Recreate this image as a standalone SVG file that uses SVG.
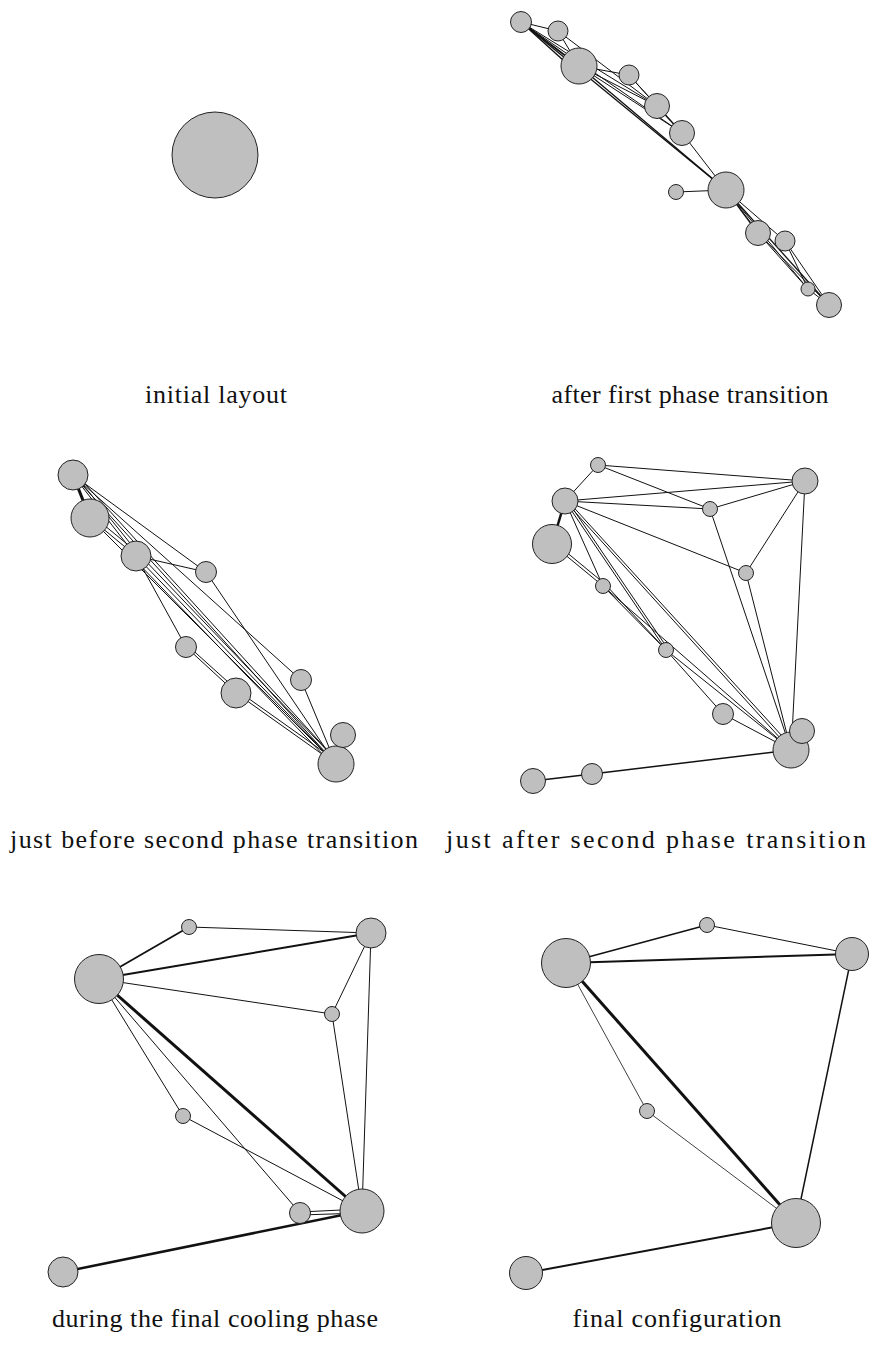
<svg xmlns="http://www.w3.org/2000/svg" width="875" height="1355" viewBox="0 0 875 1355">
<style>
.n{fill:#bfbfbf;stroke:#222;stroke-width:1}
.e{stroke:#111;stroke-width:1;fill:none}
.t{font-family:"Liberation Serif","DejaVu Serif",serif;font-size:26px;fill:#111;text-anchor:middle}
</style>
<rect width="875" height="1355" fill="#fff"/>
<!-- Panel 1 -->
<g id="p1-nodes"><g id="p1n1"><circle class="n" cx="215" cy="155" r="43"/></g></g>
<!-- Panel 2 -->
<g id="p2-edges" class="e">
<line x1="521" y1="22" x2="558" y2="31"/>
<line x1="521" y1="22" x2="579" y2="66" stroke-width="1.6"/>
<line x1="521" y1="22" x2="574" y2="70" stroke-width="1.4"/>
<line x1="521" y1="22" x2="657" y2="106"/>
<line x1="521" y1="22" x2="682" y2="133"/>
<line x1="521" y1="22" x2="726" y2="190" stroke-width="1.3"/>
<line x1="558" y1="31" x2="579" y2="66"/>
<line x1="558" y1="31" x2="657" y2="106"/>
<line x1="579" y1="66" x2="629" y2="75"/>
<line x1="579" y1="66" x2="657" y2="106"/>
<line x1="579" y1="66" x2="682" y2="133"/>
<line x1="579" y1="66" x2="726" y2="190" stroke-width="1.3"/>
<line x1="629" y1="75" x2="657" y2="106"/>
<line x1="629" y1="75" x2="682" y2="133"/>
<line x1="657" y1="106" x2="682" y2="133" stroke-width="1.5"/>
<line x1="682" y1="133" x2="726" y2="190"/>
<line x1="676" y1="192" x2="726" y2="190"/>
<line x1="726" y1="190" x2="758" y2="233" stroke-width="1.5"/>
<line x1="726" y1="190" x2="785" y2="241"/>
<line x1="726" y1="190" x2="829" y2="305" stroke-width="1.3"/>
<line x1="726" y1="190" x2="808" y2="289"/>
<line x1="758" y1="233" x2="829" y2="305"/>
<line x1="758" y1="233" x2="808" y2="289"/>
<line x1="785" y1="241" x2="829" y2="305"/>
<line x1="785" y1="241" x2="808" y2="289"/>
<line x1="808" y1="289" x2="829" y2="305"/>
</g>
<g id="p2-nodes">
<g id="p2n1"><circle class="n" cx="521" cy="22" r="10.5"/></g>
<g id="p2n2"><circle class="n" cx="558" cy="31" r="10"/></g>
<g id="p2n3"><circle class="n" cx="579" cy="66" r="18"/></g>
<g id="p2n4"><circle class="n" cx="629" cy="75" r="10"/></g>
<g id="p2n5"><circle class="n" cx="657" cy="106" r="12.5"/></g>
<g id="p2n6"><circle class="n" cx="682" cy="133" r="12.5"/></g>
<g id="p2n7"><circle class="n" cx="676" cy="192" r="7.5"/></g>
<g id="p2n8"><circle class="n" cx="726" cy="190" r="18"/></g>
<g id="p2n9"><circle class="n" cx="758" cy="233" r="12.5"/></g>
<g id="p2n10"><circle class="n" cx="785" cy="241" r="10"/></g>
<g id="p2n11"><circle class="n" cx="808" cy="289" r="7"/></g>
<g id="p2n12"><circle class="n" cx="829" cy="305" r="12.5"/></g>
</g>
<!-- Panel 3 -->
<g id="p3-edges" class="e">
<line x1="73" y1="475" x2="90" y2="518" stroke-width="3"/>
<line x1="73" y1="475" x2="136" y2="556"/>
<line x1="76" y1="476" x2="138" y2="553"/>
<line x1="73" y1="475" x2="206" y2="572"/>
<line x1="73" y1="475" x2="301" y2="680"/>
<line x1="73" y1="475" x2="336" y2="764"/>
<line x1="76" y1="474" x2="338" y2="762"/>
<line x1="90" y1="518" x2="136" y2="556"/>
<line x1="93" y1="516" x2="138" y2="553"/>
<line x1="90" y1="518" x2="336" y2="764"/>
<line x1="136" y1="556" x2="206" y2="572"/>
<line x1="136" y1="556" x2="186" y2="647"/>
<line x1="136" y1="556" x2="336" y2="764"/>
<line x1="139" y1="554" x2="338" y2="762"/>
<line x1="133" y1="558" x2="334" y2="766"/>
<line x1="206" y1="572" x2="336" y2="764"/>
<line x1="186" y1="647" x2="236" y2="693"/>
<line x1="187" y1="645" x2="238" y2="691"/>
<line x1="236" y1="693" x2="336" y2="764"/>
<line x1="238" y1="691" x2="338" y2="762"/>
<line x1="301" y1="680" x2="336" y2="764"/>
</g>
<g id="p3-nodes">
<g id="p3n1"><circle class="n" cx="73" cy="475" r="15"/></g>
<g id="p3n2"><circle class="n" cx="90" cy="518" r="19"/></g>
<g id="p3n3"><circle class="n" cx="136" cy="556" r="15"/></g>
<g id="p3n4"><circle class="n" cx="206" cy="572" r="10.5"/></g>
<g id="p3n5"><circle class="n" cx="186" cy="647" r="10.5"/></g>
<g id="p3n6"><circle class="n" cx="236" cy="693" r="15"/></g>
<g id="p3n7"><circle class="n" cx="301" cy="680" r="10.5"/></g>
<g id="p3n9"><circle class="n" cx="336" cy="764" r="18"/></g>
<g id="p3n8"><circle class="n" cx="343" cy="735" r="12.5"/></g>
</g>
<!-- Panel 4 -->
<g id="p4-edges" class="e">
<line x1="598" y1="465" x2="565" y2="501"/>
<line x1="598" y1="465" x2="805" y2="481"/>
<line x1="598" y1="465" x2="710" y2="509"/>
<line x1="565" y1="501" x2="805" y2="481"/>
<line x1="565" y1="501" x2="710" y2="509"/>
<line x1="565" y1="501" x2="746" y2="573"/>
<line x1="565" y1="501" x2="552" y2="544" stroke-width="2.5"/>
<line x1="552" y1="544" x2="603" y2="586"/>
<line x1="554" y1="542" x2="605" y2="584"/>
<line x1="565" y1="501" x2="603" y2="586"/>
<line x1="565" y1="501" x2="666" y2="650"/>
<line x1="565" y1="501" x2="791" y2="750"/>
<line x1="567" y1="500" x2="793" y2="748"/>
<line x1="567" y1="500" x2="668" y2="649"/>
<line x1="603" y1="586" x2="666" y2="650"/>
<line x1="603" y1="586" x2="791" y2="750"/>
<line x1="605" y1="584" x2="666" y2="650"/>
<line x1="710" y1="509" x2="805" y2="481"/>
<line x1="710" y1="509" x2="791" y2="750"/>
<line x1="746" y1="573" x2="805" y2="481"/>
<line x1="746" y1="573" x2="791" y2="750"/>
<line x1="805" y1="481" x2="792" y2="735"/>
<line x1="666" y1="650" x2="723" y2="714"/>
<line x1="666" y1="650" x2="791" y2="750"/>
<line x1="723" y1="714" x2="791" y2="750"/>
<line x1="791" y1="750" x2="592" y2="774" stroke-width="1.5"/>
<line x1="592" y1="774" x2="533" y2="781" stroke-width="1.5"/>
</g>
<g id="p4-nodes">
<g id="p4n1"><circle class="n" cx="598" cy="465" r="7.5"/></g>
<g id="p4n2"><circle class="n" cx="565" cy="501" r="13"/></g>
<g id="p4n3"><circle class="n" cx="552" cy="544" r="19.5"/></g>
<g id="p4n4"><circle class="n" cx="603" cy="586" r="7.5"/></g>
<g id="p4n5"><circle class="n" cx="710" cy="509" r="7.5"/></g>
<g id="p4n6"><circle class="n" cx="805" cy="481" r="13"/></g>
<g id="p4n7"><circle class="n" cx="746" cy="573" r="7.5"/></g>
<g id="p4n8"><circle class="n" cx="666" cy="650" r="7.5"/></g>
<g id="p4n9"><circle class="n" cx="723" cy="714" r="10.5"/></g>
<g id="p4n10"><circle class="n" cx="791" cy="750" r="18"/></g>
<g id="p4n11"><circle class="n" cx="802" cy="731" r="12.5"/></g>
<g id="p4n12"><circle class="n" cx="592" cy="774" r="10.5"/></g>
<g id="p4n13"><circle class="n" cx="533" cy="781" r="12.5"/></g>
</g>
<!-- Panel 5 -->
<g id="p5-edges" class="e">
<line x1="99" y1="979" x2="189" y2="927" stroke-width="1.8"/>
<line x1="189" y1="927" x2="371" y2="933"/>
<line x1="99" y1="979" x2="371" y2="933" stroke-width="2"/>
<line x1="99" y1="979" x2="332" y2="1014"/>
<line x1="371" y1="933" x2="332" y2="1014"/>
<line x1="371" y1="933" x2="362" y2="1211"/>
<line x1="332" y1="1014" x2="362" y2="1211"/>
<line x1="99" y1="979" x2="362" y2="1211" stroke-width="3"/>
<line x1="99" y1="979" x2="183" y2="1116"/>
<line x1="183" y1="1116" x2="362" y2="1211"/>
<line x1="99" y1="979" x2="300" y2="1213"/>
<line x1="300" y1="1212" x2="362" y2="1209"/>
<line x1="300" y1="1215" x2="362" y2="1213"/>
<line x1="362" y1="1211" x2="63" y2="1272" stroke-width="2.5"/>
</g>
<g id="p5-nodes">
<g id="p5n1"><circle class="n" cx="99" cy="979" r="24.5"/></g>
<g id="p5n2"><circle class="n" cx="189" cy="927" r="7.5"/></g>
<g id="p5n3"><circle class="n" cx="371" cy="933" r="15"/></g>
<g id="p5n4"><circle class="n" cx="332" cy="1014" r="7.5"/></g>
<g id="p5n5"><circle class="n" cx="183" cy="1116" r="7.5"/></g>
<g id="p5n6"><circle class="n" cx="300" cy="1213" r="10.5"/></g>
<g id="p5n7"><circle class="n" cx="362" cy="1211" r="22"/></g>
<g id="p5n8"><circle class="n" cx="63" cy="1272" r="15"/></g>
</g>
<!-- Panel 6 -->
<g id="p6-edges" class="e">
<line x1="566" y1="963" x2="707" y2="925" stroke-width="1.5"/>
<line x1="707" y1="925" x2="852" y2="954"/>
<line x1="566" y1="963" x2="852" y2="954" stroke-width="2"/>
<line x1="566" y1="963" x2="647" y2="1111" stroke-width="0.8"/>
<line x1="647" y1="1111" x2="796" y2="1223" stroke-width="0.8"/>
<line x1="566" y1="963" x2="796" y2="1223" stroke-width="3"/>
<line x1="852" y1="954" x2="796" y2="1223" stroke-width="1.5"/>
<line x1="796" y1="1223" x2="526" y2="1273" stroke-width="2"/>
</g>
<g id="p6-nodes">
<g id="p6n1"><circle class="n" cx="566" cy="963" r="24.5"/></g>
<g id="p6n2"><circle class="n" cx="707" cy="925" r="7.5"/></g>
<g id="p6n3"><circle class="n" cx="852" cy="954" r="16.5"/></g>
<g id="p6n4"><circle class="n" cx="647" cy="1111" r="7.5"/></g>
<g id="p6n5"><circle class="n" cx="796" cy="1223" r="24.5"/></g>
<g id="p6n6"><circle class="n" cx="526" cy="1273" r="16.5"/></g>
</g>
<g id="labels">
<text class="t" x="216" y="403" textLength="142">initial layout</text>
<text class="t" x="690" y="403" textLength="277">after first phase transition</text>
<text class="t" x="214" y="848" textLength="408">just before second phase transition</text>
<text class="t" x="656" y="848" textLength="420">just after second phase transition</text>
<text class="t" x="215" y="1327" textLength="326">during the final cooling phase</text>
<text class="t" x="677" y="1327" textLength="209">final configuration</text>
</g>
</svg>
